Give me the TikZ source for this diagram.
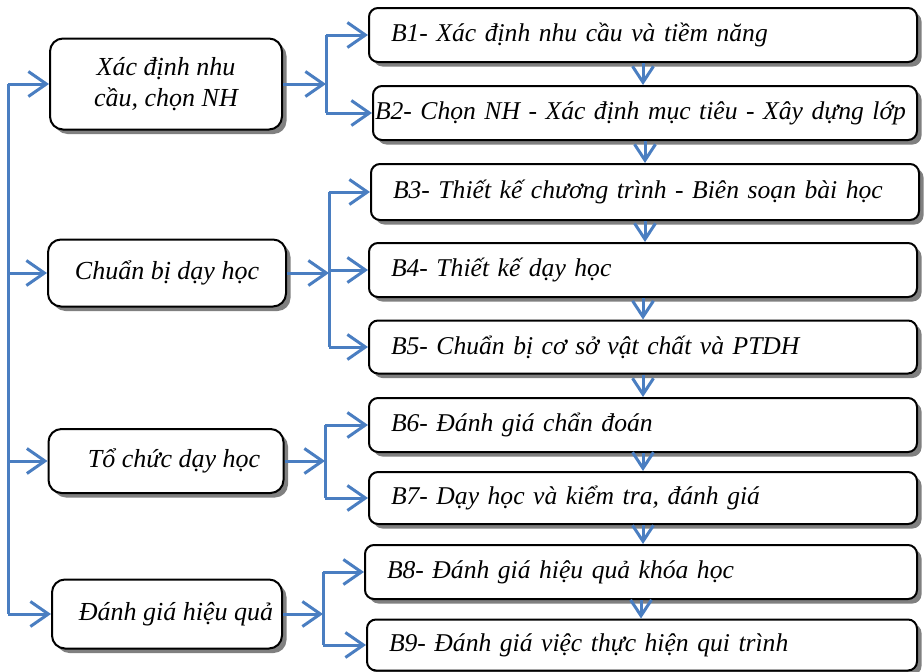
\documentclass[tikz,border=0pt]{standalone}
\usepackage{fontspec}
\setmainfont{Liberation Serif}
\usetikzlibrary{arrows.meta,shadows}
\definecolor{flowblue}{RGB}{74,126,193}

\begin{document}
\begin{tikzpicture}[x=1pt,y=-1pt,
    boxshadow/.style={drop shadow={shadow xshift=4.5pt, shadow yshift=-4.5pt, fill=black!50, opacity=1}},
    stage/.style={draw, line width=2pt, rounded corners=13pt, fill=white, align=center,
        inner sep=0pt, font=\fontsize{26}{31}\selectfont\itshape, boxshadow},
    task/.style={draw, line width=2pt, rounded corners=9pt, fill=white, anchor=west,
        align=left, inner xsep=22pt, inner ysep=0pt, text width=504pt, minimum height=54pt,
        font=\fontsize{25.6}{31}\selectfont\itshape, boxshadow},
    bar/.style={flowblue, line width=3pt},
    link/.style={bar, -{Straight Barb[length=18pt,width=25pt]}},
    down/.style={bar, -{Straight Barb[length=16pt,width=21pt]}}]
    \useasboundingbox (0,0) rectangle (924,672);

    % stages on the left
    \node[stage, minimum width=232pt, minimum height=91pt] (xacdinh) at (166,84) {X\'ac định nhu\\cầu, chọn NH};
    \node[stage, minimum width=238pt, minimum height=67pt] (chuanbi) at (167,273) {Chuẩn bị dạy học};
    \node[stage, minimum width=235pt, minimum height=64pt] (tochuc) at (166,461) {\hspace*{16pt}Tổ chức dạy học};
    \node[stage, minimum width=230pt, minimum height=69pt] (danhgia) at (167,614) {\hspace*{18pt}Đánh giá hiệu quả};

    % steps on the right
    \node[task] (b1) at (368,35) {B1- X\'ac định nhu cầu và tiềm năng};
    \node[task, inner xsep=2pt, text width=540pt] (b2) at (372,113) {B2- Chọn NH - X\'ac định mục tiêu - X\^ay dựng lớp};
    \node[task, minimum height=56pt] (b3) at (370,192) {B3- Thiết kế chương trình - Bi\^en soạn bài học};
    \node[task] (b4) at (368,270) {B4- Thiết kế dạy học};
    \node[task, minimum height=53pt] (b5) at (368,347) {B5- Chuẩn bị cơ sở vật chất và PTDH};
    \node[task] (b6) at (368,425) {B6- Đ\'anh gi\'a chẩn đo\'an};
    \node[task, minimum height=52pt] (b7) at (368,498) {B7- Dạy học và kiểm tra, đ\'anh gi\'a};
    \node[task, text width=508pt] (b8) at (364,572) {B8- Đ\'anh gi\'a hiệu quả khóa học};
    \node[task, text width=506pt, minimum height=51pt] (b9) at (366,645) {B9- Đ\'anh gi\'a việc thực hiện qui trình};

    % trunk on the left
    \coordinate (trunk) at (8,0);
    \draw[bar] (trunk |- xacdinh.west) -- (trunk |- danhgia.west);
    \draw[link] (trunk |- xacdinh.west) -- (xacdinh.west);
    \draw[link] (trunk |- chuanbi.west) -- (chuanbi.west);
    \draw[link] (trunk |- tochuc.west) -- (tochuc.west);
    \draw[link] (trunk |- danhgia.west) -- (danhgia.west);

    % forks to the steps
    \coordinate (fork1) at (326,0);
    \coordinate (fork2) at (329,0);
    \coordinate (fork3) at (325,0);
    \coordinate (fork4) at (323,0);

    \draw[link] (xacdinh.east) -- (xacdinh.east -| fork1);
    \draw[bar] (fork1 |- b1.west) -- (fork1 |- b2.west);
    \draw[link] (fork1 |- b1.west) -- (b1.west);
    \draw[link] (fork1 |- b2.west) -- (b2.west);

    \draw[link] (chuanbi.east) -- (chuanbi.east -| fork2);
    \draw[bar] (fork2 |- b3.west) -- (fork2 |- b5.west);
    \draw[link] (fork2 |- b3.west) -- (b3.west);
    \draw[link] (fork2 |- b4.west) -- (b4.west);
    \draw[link] (fork2 |- b5.west) -- (b5.west);

    \draw[link] (tochuc.east) -- (tochuc.east -| fork3);
    \draw[bar] (fork3 |- b6.west) -- (fork3 |- b7.west);
    \draw[link] (fork3 |- b6.west) -- (b6.west);
    \draw[link] (fork3 |- b7.west) -- (b7.west);

    \draw[link] (danhgia.east) -- (danhgia.east -| fork4);
    \draw[bar] (fork4 |- b8.west) -- (fork4 |- b9.west);
    \draw[link] (fork4 |- b8.west) -- (b8.west);
    \draw[link] (fork4 |- b9.west) -- (b9.west);

    % arrows between the steps
    \foreach \from/\to in {b1/b2,b2/b3,b3/b4,b4/b5,b5/b6,b6/b7,b7/b8,b8/b9}
        \draw[down] (\from.south) -- (\from.south |- \to.north);
\end{tikzpicture}
\end{document}
